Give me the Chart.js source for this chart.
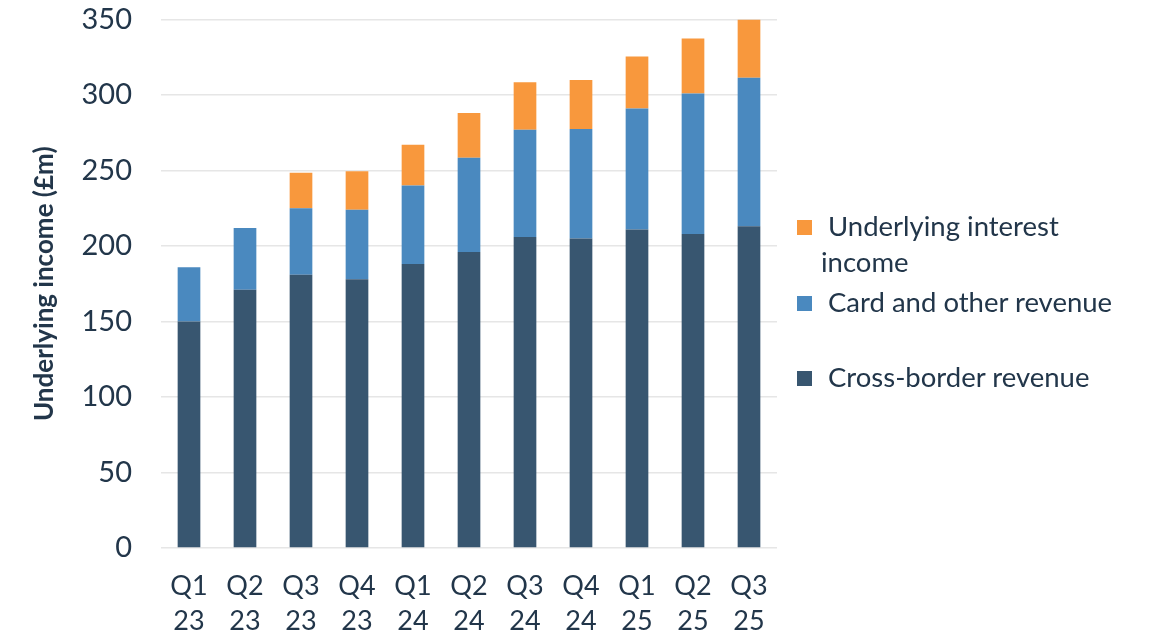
<!DOCTYPE html>
<html>
<head>
<meta charset="utf-8">
<script src="https://cdn.jsdelivr.net/npm/chart.js@4"></script>
<style>
  html, body { margin: 0; padding: 0; background: #fff; }
  #wrap { position: relative; width: 1150px; height: 641px; }
  #legend { position: absolute; left: 0; top: 0; font-family: Lato, sans-serif; font-size: 27.5px; line-height: 35.7px; color: #22364a; }
  .sw { position: absolute; width: 15px; height: 15px; }
  .lt { position: absolute; width: 260px; }
</style>
</head>
<body>
<div id="wrap">
  <canvas id="chart" width="1150" height="641"></canvas>
  <div id="legend"></div>
</div>
<script>
// Trimestres (duas linhas por rótulo)
const quarters = ['Q1', 'Q2', 'Q3', 'Q4', 'Q1', 'Q2', 'Q3', 'Q4', 'Q1', 'Q2', 'Q3'];
const years = ['23', '23', '23', '23', '24', '24', '24', '24', '25', '25', '25'];

// Valores em £m
const crossBorder = [150, 171, 181, 178, 188, 196, 206, 205, 211, 208, 213];
const cardOther = [36, 41, 44, 46, 52, 62.5, 71, 72.5, 80, 93, 98.5];
const interestIncome = [null, null, 23.5, 25.5, 27, 29.5, 31.5, 32.5, 34.5, 36.5, 38.5];

const seriesNames = ['Cross-border revenue', 'Card and other revenue', 'Underlying interest income'];
const seriesColors = ['#385670', '#4a89bf', '#f8983d'];
const yTicks = [0, 50, 100, 150, 200, 250, 300, 350];

const textColor = '#22364a';
const labels = quarters.map((q, i) => [q, years[i]]);

const chart = new Chart(document.getElementById('chart').getContext('2d'), {
    type: 'bar',
    data: {
        labels: labels,
        datasets: [crossBorder, cardOther, interestIncome].map((d, i) => ({
            label: seriesNames[i],
            data: d,
            backgroundColor: seriesColors[i],
            borderWidth: 0,
            categoryPercentage: 1,
            barPercentage: 0.405
        }))
    },
    options: {
        responsive: false,
        animation: false,
        layout: { padding: { top: 19.5, right: 373, bottom: 0, left: 0 } },
        plugins: { legend: { display: false }, tooltip: { enabled: false } },
        scales: {
            x: {
                stacked: true,
                grid: { display: false },
                border: { display: false },
                ticks: {
                    color: textColor,
                    font: { family: 'Lato', size: 27, lineHeight: 1.32 },
                    padding: 12,
                    maxRotation: 0,
                    autoSkip: false
                },
                afterFit: s => { s.height = 93; }
            },
            y: {
                stacked: true,
                min: yTicks[0],
                max: yTicks[yTicks.length - 1],
                afterBuildTicks: s => { s.ticks = yTicks.map(v => ({ value: v })); },
                grid: { color: '#e6e6e6', lineWidth: 1.5, drawTicks: false },
                border: { display: false },
                ticks: {
                    color: textColor,
                    font: { family: 'Lato', size: 29 },
                    padding: 29
                },
                title: {
                    display: true,
                    text: 'Underlying income (£m)',
                    color: textColor,
                    font: { family: 'Lato', size: 26, weight: 'bold' },
                    padding: { top: 29, bottom: 0 }
                },
                afterFit: s => {
                    s.width = 161;
                    s.paddingTop = 0;
                    s.paddingBottom = 0;
                }
            }
        }
    }
});

// Legenda em HTML, da série do topo para a de baixo
const legendTops = [208, 284, 359];
const legend = document.getElementById('legend');
chart.data.datasets.slice().reverse().forEach((ds, i) => {
    const sw = document.createElement('div');
    sw.className = 'sw';
    sw.style.left = '797px';
    sw.style.top = (legendTops[i] + 12) + 'px';
    sw.style.background = ds.backgroundColor;
    const lt = document.createElement('div');
    lt.className = 'lt';
    lt.style.left = '821px';
    lt.style.top = legendTops[i] + 'px';
    lt.style.textIndent = '7px';
    lt.style.width = i === 0 ? '250px' : '330px';
    lt.textContent = ds.label;
    legend.appendChild(sw);
    legend.appendChild(lt);
});
</script>
</body>
</html>
